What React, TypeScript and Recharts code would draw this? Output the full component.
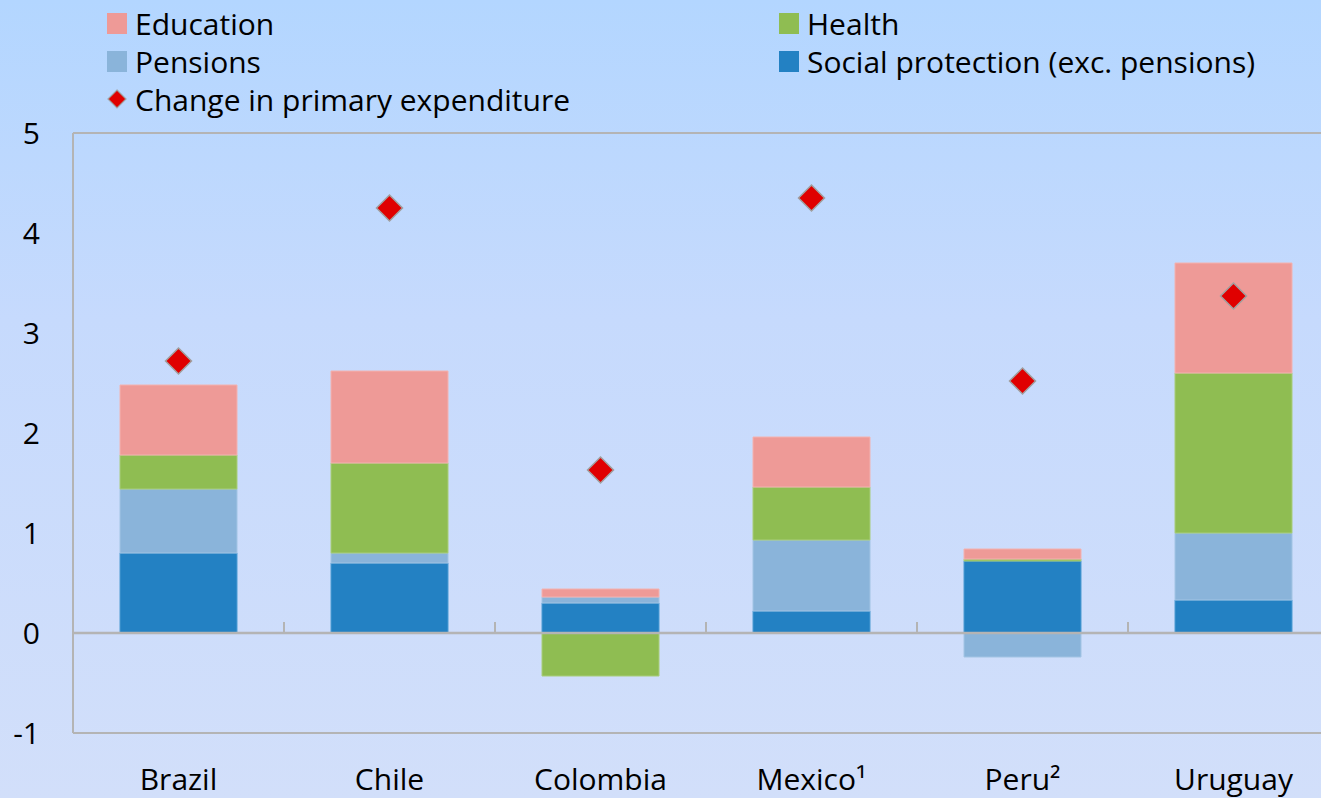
import { Bar, ComposedChart, Line, ReferenceLine, XAxis, YAxis } from "recharts";

const countries = ["Brazil", "Chile", "Colombia", "Mexico¹", "Peru²", "Uruguay"];
const socialProtection = [0.8, 0.7, 0.3, 0.22, 0.72, 0.33];
const pensions = [0.64, 0.1, 0.06, 0.71, -0.24, 0.67];
const health = [0.34, 0.9, -0.43, 0.53, 0.02, 1.6];
const education = [0.7, 0.92, 0.08, 0.5, 0.1, 1.1];
const primaryChange = [2.72, 4.25, 1.63, 4.35, 2.52, 3.37];
const yTicks = [-1, 0, 1, 2, 3, 4, 5];

const W = 1345;
const H = 798;
const TOP = 133;
const LEFT = 73;
const RIGHT = 6;
const BOTTOM = 65;
const plotH = H - TOP - BOTTOM;
const band = (W - LEFT - RIGHT) / countries.length;
const zeroY = TOP + (5 / 6) * plotH;

const FONT = "'Open Sans', 'Noto Sans', sans-serif";
const FS = 30;
const GRID = "#b4b4b4";

const COLORS = {
  sp: "#2381c3",
  pens: "#8ab4da",
  health: "#8fbd52",
  edu: "#ee9a97",
  diamond: "#e00000"
};

const chartData = countries.map((name, i) => ({
  name,
  sp: socialProtection[i],
  pens: pensions[i],
  health: health[i],
  edu: education[i],
  change: primaryChange[i]
}));

function Diamond({ cx, cy, size = 13 }: { cx?: number; cy?: number; size?: number }) {
  if (cx == null || cy == null) return null;
  return (
    <path
      d={`M${cx},${cy - size}L${cx + size},${cy}L${cx},${cy + size}L${cx - size},${cy}Z`}
      fill={COLORS.diamond}
      stroke="#a0a0a0"
      strokeWidth={1.5}
    />
  );
}

function CountryTick(props: any) {
  const { x, y, payload, index } = props;
  return (
    <g>
      {index > 0 && (
        <line x1={x - band / 2} x2={x - band / 2} y1={zeroY} y2={zeroY - 11} stroke={GRID} strokeWidth={2} />
      )}
      <text x={x} y={y} dy="0.71em" textAnchor="middle" fill="#000" fontSize={FS} fontFamily={FONT}>
        {payload.value}
      </text>
    </g>
  );
}

const legendItems = [
  { label: "Education", color: COLORS.edu, x: 107, y: 24 },
  { label: "Pensions", color: COLORS.pens, x: 107, y: 62 },
  { label: "Change in primary expenditure", color: COLORS.diamond, x: 107, y: 100, diamond: true },
  { label: "Health", color: COLORS.health, x: 779, y: 24 },
  { label: "Social protection (exc. pensions)", color: COLORS.sp, x: 779, y: 62 }
];

export default function App() {
  return (
    <div
      style={{
        position: "fixed",
        left: 0,
        top: 0,
        width: 1321,
        height: 798,
        overflow: "hidden",
        background: "linear-gradient(180deg, #b3d6ff 0%, #c6dafd 40%, #d2dffa 100%)",
        fontFamily: FONT
      }}
    >
      {legendItems.map((item) => (
        <div
          key={item.label}
          style={{
            position: "absolute",
            left: item.x,
            top: item.y - 21,
            height: 40,
            display: "flex",
            alignItems: "center",
            fontSize: FS,
            color: "#000",
            whiteSpace: "nowrap"
          }}
        >
          {item.diamond ? (
            <svg width={20} height={20} style={{ marginRight: 8 }}>
              <path d="M10,1L19,10L10,19L1,10Z" fill={item.color} stroke="#a0a0a0" strokeWidth={1.2} />
            </svg>
          ) : (
            <span style={{ display: "inline-block", width: 20, height: 21, background: item.color, marginRight: 8 }} />
          )}
          {item.label}
        </div>
      ))}
      <div style={{ position: "absolute", left: 0, top: 0 }}>
        <ComposedChart
          width={W}
          height={H}
          data={chartData}
          stackOffset="sign"
          margin={{ top: TOP, left: 0, right: RIGHT, bottom: 0 }}
        >
          <XAxis
            dataKey="name"
            height={BOTTOM}
            axisLine={{ stroke: GRID, strokeWidth: 2 }}
            tickLine={false}
            tickSize={0}
            tickMargin={36}
            tick={<CountryTick />}
            interval={0}
          />
          <YAxis
            width={LEFT}
            domain={[-1, 5]}
            ticks={yTicks}
            interval={0}
            axisLine={{ stroke: GRID, strokeWidth: 2 }}
            tickLine={false}
            tickSize={0}
            tickMargin={33}
            tick={{ fill: "#000", fontSize: FS, fontFamily: FONT }}
          />
          <ReferenceLine y={5} stroke={GRID} strokeWidth={2} />
          <Bar dataKey="sp" stackId="a" fill={COLORS.sp} stroke="#4d9bd2" strokeWidth={1} barSize={117} isAnimationActive={false} />
          <Bar dataKey="pens" stackId="a" fill={COLORS.pens} stroke="#a2c4e4" strokeWidth={1} barSize={117} isAnimationActive={false} />
          <Bar dataKey="health" stackId="a" fill={COLORS.health} stroke="#a8cd7a" strokeWidth={1} barSize={117} isAnimationActive={false} />
          <Bar dataKey="edu" stackId="a" fill={COLORS.edu} stroke="#f3b2b0" strokeWidth={1} barSize={117} isAnimationActive={false} />
          <ReferenceLine y={0} stroke={GRID} strokeWidth={2.5} />
          <Line
            dataKey="change"
            stroke="none"
            dot={(p: any) => <Diamond key={p.index} cx={p.cx} cy={p.cy} />}
            activeDot={false}
            isAnimationActive={false}
          />
        </ComposedChart>
      </div>
    </div>
  );
}
